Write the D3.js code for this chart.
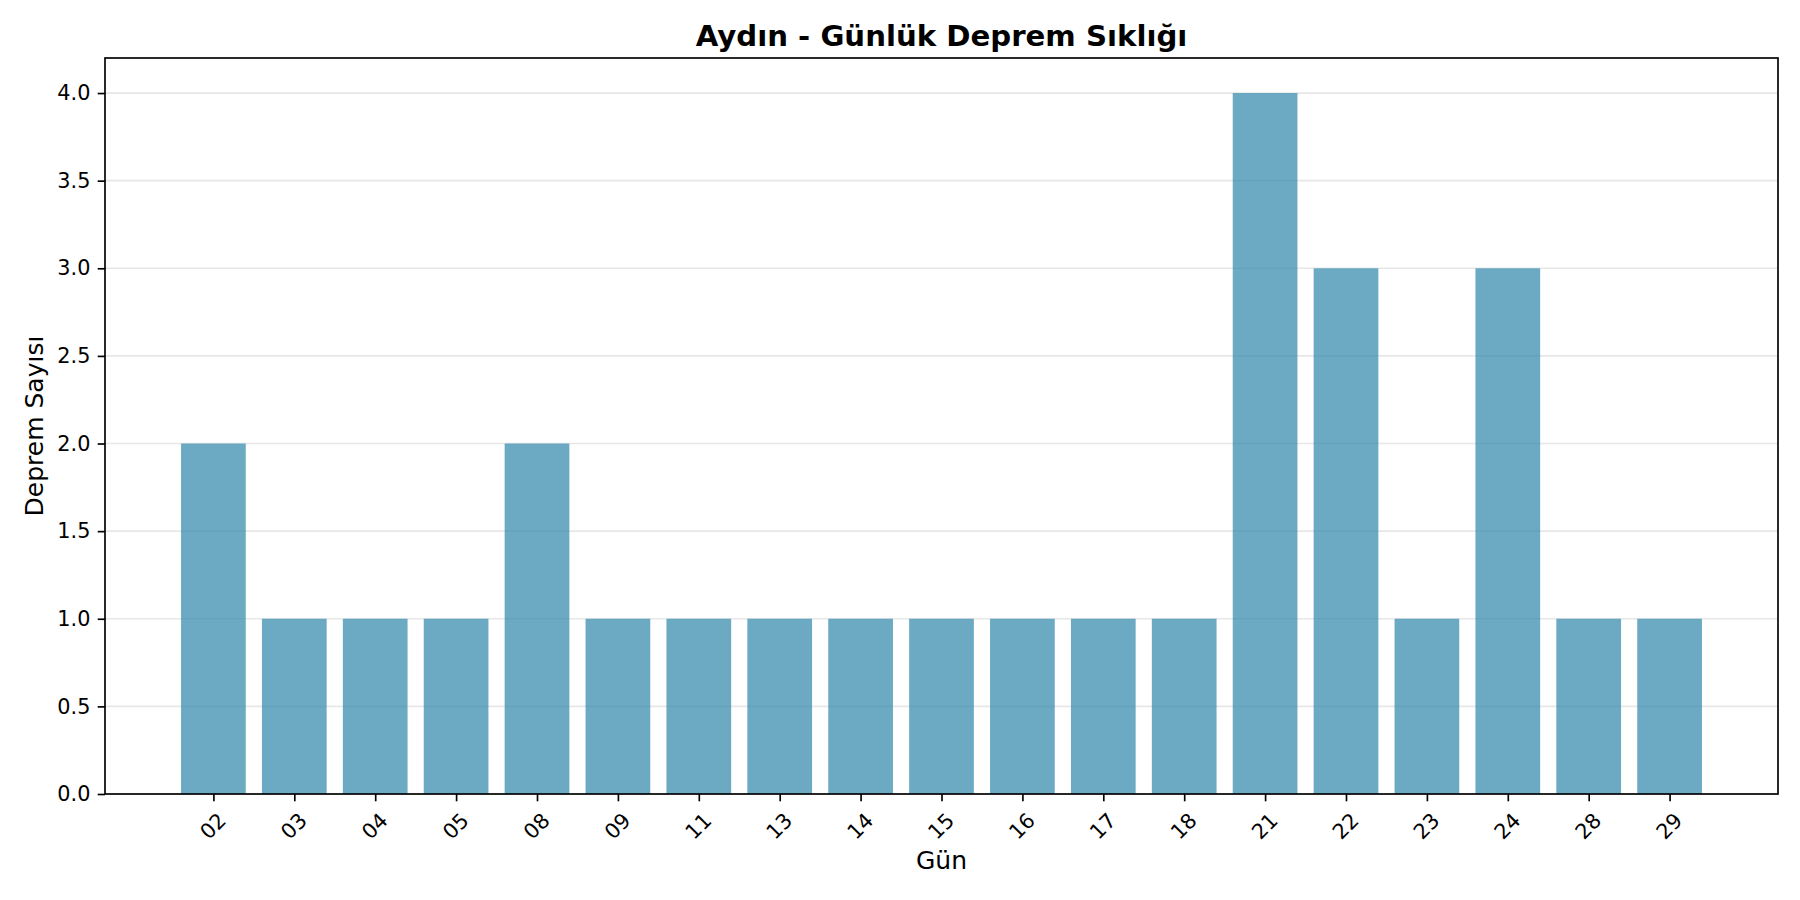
<!DOCTYPE html>
<html>
<head>
<meta charset="utf-8">
<script src="https://cdn.jsdelivr.net/npm/d3@7"></script>
<style>
  html, body { margin: 0; padding: 0; background: #fff; }
  svg { display: block; font-family: "DejaVu Sans", sans-serif; }
</style>
</head>
<body>
<svg id="chart" width="1800" height="900"></svg>
<script>
const days = ["02","03","04","05","08","09","11","13","14","15","16","17","18","21","22","23","24","28","29"];
const counts = [2,1,1,1,2,1,1,1,1,1,1,1,1,4,3,1,3,1,1];
const yTicks = [0,0.5,1.0,1.5,2.0,2.5,3.0,3.5,4.0];
const title = "Aydın - Günlük Deprem Sıklığı";
const xTitle = "Gün";
const yTitle = "Deprem Sayısı";

const W = 1800, H = 900;
const m = {left: 105, right: 1778, top: 58, bottom: 794};
const svg = d3.select("#chart");

const n = days.length;
const barW = 0.8;
const pad = (n - 1 + barW) * 0.05;
const x = d3.scaleLinear().domain([-barW/2 - pad, n - 1 + barW/2 + pad]).range([m.left, m.right]);
const yMax = d3.max(counts) * 1.05;
const y = d3.scaleLinear().domain([0, yMax]).range([m.bottom, m.top]);

const lw = 1.67;

// grid
svg.append("g").selectAll("line").data(yTicks).join("line")
  .attr("x1", m.left).attr("x2", m.right)
  .attr("y1", d => y(d)).attr("y2", d => y(d))
  .attr("stroke", "#b0b0b0").attr("stroke-opacity", 0.3).attr("stroke-width", lw);

// bars
svg.append("g").selectAll("rect").data(counts).join("rect")
  .attr("x", (d, i) => x(i - barW/2))
  .attr("width", (d, i) => x(i + barW/2) - x(i - barW/2))
  .attr("y", d => y(d))
  .attr("height", d => y(0) - y(d))
  .attr("fill", "#2E86AB").attr("fill-opacity", 0.7);

// y axis
const yAxis = d3.axisLeft(y).tickValues(yTicks).tickFormat(d3.format(".1f")).tickSize(7.3).tickPadding(7.3);
const gy = svg.append("g").attr("transform", `translate(${m.left},0)`).call(yAxis);
gy.select(".domain").remove();
gy.selectAll(".tick line").attr("stroke", "#000").attr("stroke-width", lw);
gy.selectAll(".tick text").attr("font-size", 20.8).attr("fill", "#000")
  .attr("font-family", "DejaVu Sans");

// x axis
const xAxis = d3.axisBottom(x).tickValues(d3.range(n)).tickFormat(i => days[i]).tickSize(7.3).tickPadding(0);
const gx = svg.append("g").attr("transform", `translate(0,${m.bottom})`).call(xAxis);
gx.select(".domain").remove();
gx.selectAll(".tick line").attr("stroke", "#000").attr("stroke-width", lw);
gx.selectAll(".tick text")
  .attr("font-size", 20.8).attr("fill", "#000").attr("font-family", "DejaVu Sans")
  .attr("text-anchor", "middle")
  .attr("y", 0).attr("dy", "0.35em")
  .attr("transform", "translate(-1,32) rotate(-45)");

// frame
svg.append("rect")
  .attr("x", m.left).attr("y", m.top)
  .attr("width", m.right - m.left).attr("height", m.bottom - m.top)
  .attr("fill", "none").attr("stroke", "#000").attr("stroke-width", lw);

// title
svg.append("text")
  .attr("x", (m.left + m.right) / 2).attr("y", 46)
  .attr("text-anchor", "middle")
  .attr("font-size", 29.2).attr("font-weight", "bold")
  .text(title);

// x label
svg.append("text")
  .attr("x", (m.left + m.right) / 2).attr("y", 869)
  .attr("text-anchor", "middle")
  .attr("font-size", 25)
  .text(xTitle);

// y label
svg.append("text")
  .attr("transform", `translate(43,${(m.top + m.bottom) / 2}) rotate(-90)`)
  .attr("text-anchor", "middle")
  .attr("font-size", 25)
  .text(yTitle);
</script>
</body>
</html>
